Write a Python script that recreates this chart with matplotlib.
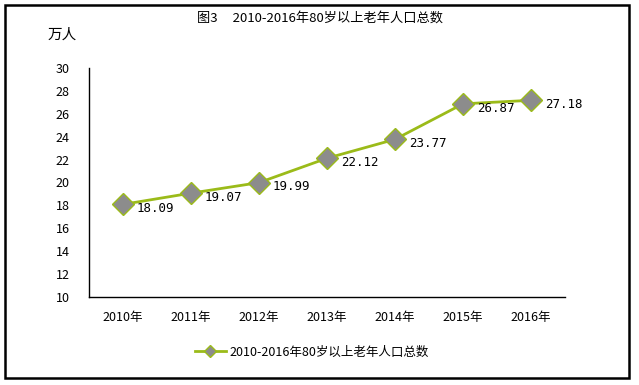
import matplotlib.pyplot as plt
from matplotlib.patches import Rectangle

plt.rcParams['font.family'] = ['Noto Sans CJK SC', 'DejaVu Sans']

years = ['2010年', '2011年', '2012年', '2013年', '2014年', '2015年', '2016年']
values = [18.09, 19.07, 19.99, 22.12, 23.77, 26.87, 27.18]
series_name = '2010-2016年80岁以上老年人口总数'
y_ticks = [10, 12, 14, 16, 18, 20, 22, 24, 26, 28, 30]

fig = plt.figure(figsize=(6.39, 3.85), dpi=100)
# outer frame
fig.patches.append(Rectangle((5 / 639, 7 / 385), 624 / 639, 373 / 385, transform=fig.transFigure,
                             fill=False, edgecolor='black', linewidth=1.8))

ax = fig.add_axes([89 / 639, (385 - 297) / 385, (565 - 89) / 639, (297 - 68) / 385])
x = range(len(years))
ax.plot(x, values, color='#9BBB19', linewidth=2, marker='D', markersize=11,
        markerfacecolor='#8C8C8C', markeredgecolor='#9BBB19', markeredgewidth=1,
        label=series_name)

for xi, v in zip(x, values):
    ax.annotate(f'{v:.2f}', (xi, v), xytext=(10, -3), textcoords='offset points',
                ha='left', va='center', fontsize=9, family=['DejaVu Sans Mono'])

ax.set_xlim(-0.5, len(years) - 0.5)
ax.set_ylim(10, 30)
ax.set_yticks(y_ticks)
ax.set_xticks(list(x))
ax.set_xticklabels(years)
ax.tick_params(axis='both', length=0, labelsize=9)
ax.tick_params(axis='y', pad=14)
ax.tick_params(axis='x', pad=10)
for s in ['top', 'right']:
    ax.spines[s].set_visible(False)
for s in ['left', 'bottom']:
    ax.spines[s].set_linewidth(1)

fig.text(320 / 639, 1 - 18 / 385, '图3     2010-2016年80岁以上老年人口总数', ha='center', va='center', fontsize=9.5)
fig.text(62 / 639, 1 - 35 / 385, '万人', ha='center', va='center', fontsize=10.5)

fig.legend(loc='center', bbox_to_anchor=(312 / 639, 1 - 352 / 385), frameon=False, fontsize=9,
           handlelength=2.5, handletextpad=0.3, markerscale=0.55)

fig.savefig('out.png', dpi=100)
